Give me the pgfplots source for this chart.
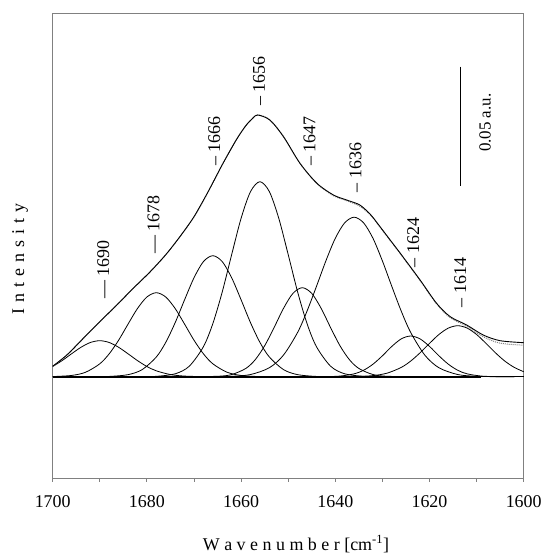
\documentclass[border=0pt]{standalone}
\usepackage{fontspec}
\setmainfont{Liberation Serif}
\usepackage{pgfplots}
\pgfplotsset{compat=1.18}
\pgfplotsset{comp/.style={black, line width=0.8bp, smooth, no markers}}
\begin{document}
\fontsize{18}{21}\selectfont
\begin{tikzpicture}
\begin{axis}[
  scale only axis, width=471bp, height=465bp,
  x dir=reverse, xmin=1600, xmax=1700, ymin=-101.6, ymax=363.4,
  ytick=\empty,
  xtick={1600,1620,...,1700},
  minor xtick={1610,1630,...,1690},
  xtick pos=bottom,
  tick align=outside, major tick length=3.5bp, minor tick length=3.5bp,
  axis line style={draw=gray, line width=1.2bp},
  every tick/.style={draw=gray, line width=0.9bp},
  /pgf/number format/assume math mode=true,
  /pgf/number format/1000 sep={},
  xticklabel style={font=\fontsize{18}{21}\selectfont, text=black, anchor=base, yshift=-26bp},
  clip=false,
]
% baseline
\addplot[black, no markers, line width=2.2bp] coordinates {(1700,0) (1609,0)};
\addplot[black, no markers, line width=0.7bp] coordinates {(1609,0) (1600,0)};
% components
\addplot[comp] coordinates {(1700,10.2)(1698,16.1)(1696,22.9)(1694,29.4)(1692,34.2)(1690,36)(1688,34.2)(1686,29.4)(1684,22.9)(1682,16.1)(1680,10.2)(1678,5.87)(1675,2.12)(1672,0.61)(1668,0.08)(1664,0)};
\addplot[comp] coordinates {(1700,0.15)(1696,1.24)(1693,4.5)(1690,12.9)(1688,22.9)(1686,36.5)(1684,52.6)(1682,68.2)(1680,79.7)(1678,84)(1676,79.7)(1674,68.2)(1672,52.6)(1670,36.5)(1668,22.9)(1666,12.9)(1663,4.5)(1660,1.24)(1656,0.15)(1650,0)};
\addplot[comp] coordinates {(1696,0)(1692,0.02)(1688,0.27)(1684,2.04)(1681,7.1)(1678,19.7)(1676,34.3)(1674,54)(1672,76.9)(1670,98.9)(1668,115.1)(1666,121)(1664,115.1)(1662,98.9)(1660,76.9)(1658,54)(1656,34.3)(1654,19.7)(1651,7.1)(1648,2.04)(1644,0.27)(1640,0.02)(1636,0)};
\addplot[comp] coordinates {(1684,0)(1681,0.05)(1678,0.36)(1674,2.88)(1671,10.5)(1668,30)(1666,53.1)(1664,84.8)(1662,122.1)(1660,158.4)(1658,185.1)(1656,195)(1654,185.1)(1652,158.4)(1650,122.1)(1648,84.8)(1646,53.1)(1644,30)(1641,10.5)(1638,2.88)(1634,0.36)(1631,0.05)(1628,0)};
\addplot[comp] coordinates {(1672,0)(1665,0.42)(1662,2.16)(1659,8.24)(1657,17)(1655,30.9)(1653,49.1)(1651,68.3)(1649,83.3)(1647,89)(1645,83.3)(1643,68.3)(1641,49.1)(1639,30.9)(1637,17)(1635,8.24)(1632,2.16)(1629,0.42)(1622,0)};
\addplot[comp] coordinates {(1670,0)(1666,0.05)(1662,0.39)(1658,2.16)(1654,8.95)(1651,21.6)(1648,44.3)(1646,65.6)(1644,90.3)(1642,115.8)(1640,138.4)(1638,153.9)(1636,159.5)(1634,153.9)(1632,138.4)(1630,115.8)(1628,90.3)(1626,65.6)(1624,44.3)(1621,21.6)(1618,8.95)(1614,2.16)(1610,0.39)(1606,0.05)(1602,0)};
\addplot[comp] coordinates {(1646,0)(1642,0.1)(1639,0.63)(1636,2.84)(1634,6.41)(1632,12.5)(1630,20.9)(1628,30.3)(1626,37.8)(1624,40.7)(1622,37.8)(1620,30.3)(1618,20.9)(1616,12.5)(1614,6.41)(1612,2.84)(1609,0.63)(1606,0.1)(1602,0)};
\addplot[comp] coordinates {(1642,0)(1636,0.17)(1632,1.1)(1629,3.56)(1626,9.28)(1624,15.6)(1622,23.9)(1620,33.3)(1618,42.2)(1616,48.6)(1614,51)(1612,48.6)(1610,42.2)(1608,33.3)(1606,23.9)(1604,15.6)(1602,9.28)(1600,5)};
% measured spectrum (dotted) and fitted envelope
\addplot[gray, densely dotted, line width=1bp, smooth] coordinates {(1700,10)(1697,21.5)(1693.5,38.2)(1690,54.8)(1686.4,71.5)(1682.9,88.2)(1679.3,104.8)(1676,121.8)(1673,139.8)(1670,159.8)(1667,184.8)(1664,211.8)(1661,237)(1659,251)(1657.5,258.7)(1656.5,261.9)(1653.9,256.9)(1651,240.2)(1647.5,213.4)(1643.9,193)(1640.4,181)(1637.6,176)(1634.8,170.5)(1632.5,161.5)(1630.5,149.5)(1628.4,136.5)(1626.2,123)(1622,96.2)(1618.5,72.8)(1615.6,59)(1612.1,50.5)(1608.6,40)(1605,33.5)(1600,31.5)};
\addplot[black, line width=0.9bp, smooth] coordinates {(1700,10.5)(1697,21.7)(1693.5,38.4)(1690,55)(1686.4,71.7)(1682.9,88.4)(1679.3,105)(1676,122)(1673,140)(1670,160)(1667,185)(1664,212)(1661,237)(1659,251)(1657.5,258.5)(1656.5,261.7)(1653.9,256.7)(1651,240)(1647.5,213.4)(1643.9,193.4)(1640.4,181.7)(1637.6,176.7)(1634.8,171.7)(1632.5,162)(1630.5,150)(1628.4,137)(1626.2,123.4)(1622,96.7)(1618.5,73.4)(1615.6,60)(1612.1,51.7)(1608.6,41.7)(1605,36)(1600,34)};
% peak labels
\tikzset{pk/.style={rotate=90, anchor=west, inner sep=0pt, font=\fontsize{18}{21}\selectfont}}
\node[pk] at (axis cs:1689.26,77.7) {— 1690};
\node[pk] at (axis cs:1678.62,122.7) {— 1678};
\node[pk] at (axis cs:1665.67,210.7) {– 1666};
\node[pk] at (axis cs:1656.2,270.7) {– 1656};
\node[pk] at (axis cs:1645.46,210.7) {– 1647};
\node[pk] at (axis cs:1635.69,184.2) {– 1636};
\node[pk] at (axis cs:1623.46,109.2) {– 1624};
\node[pk] at (axis cs:1613.46,69.2) {– 1614};
% scale bar
\draw[black, line width=0.9bp] (axis cs:1613.5,310) -- (axis cs:1613.5,190.7);
\node[rotate=90, inner sep=0pt, font=\fontsize{17}{20}\selectfont] at (axis cs:1608.2,254) {0.05 a.u.};
\end{axis}
\node[rotate=90, inner sep=0pt] at (-32.7bp,219.3bp) {I\hspace{6bp}n\hspace{6bp}t\hspace{6bp}e\hspace{6bp}n\hspace{6bp}s\hspace{6bp}i\hspace{6bp}t\hspace{6bp}y};
\node[anchor=base, inner sep=0pt] at (243.3bp,-71.7bp) {W a v e n u m b e r [cm\textsuperscript{-1}]};
\pgfresetboundingbox
\path (-52.7bp,-74.7bp) rectangle (493.3bp,478.3bp);
\end{tikzpicture}
\end{document}
